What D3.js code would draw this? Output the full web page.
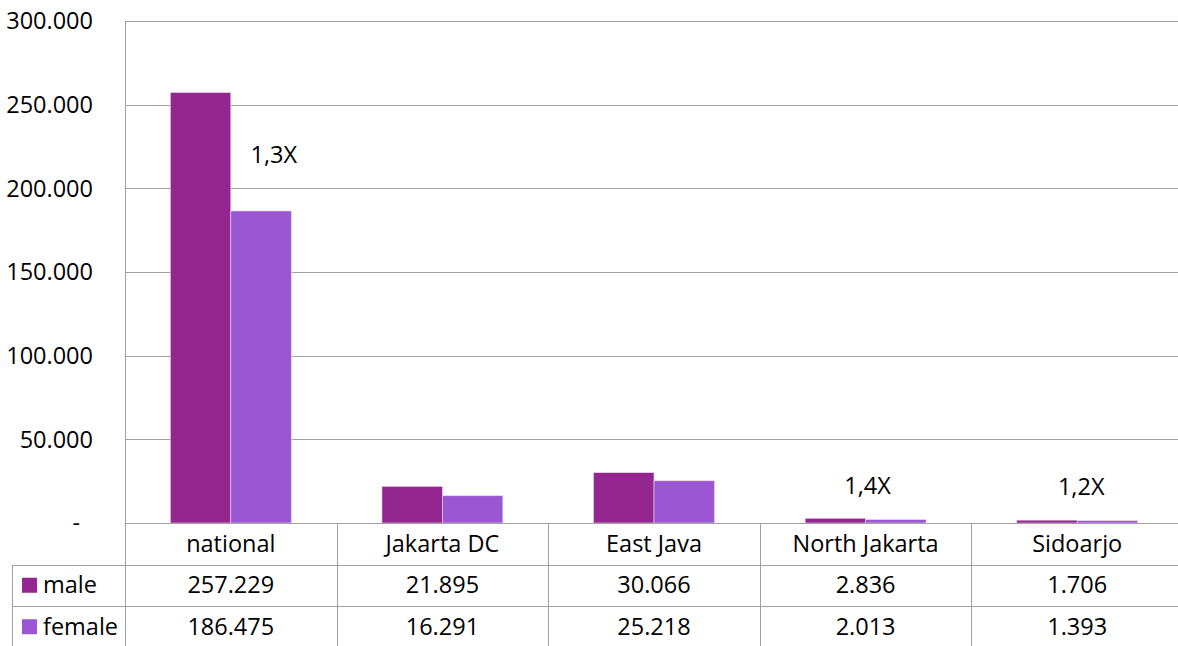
<!DOCTYPE html>
<html>
<head>
<meta charset="utf-8">
<script src="https://cdn.jsdelivr.net/npm/d3@7"></script>
<style>
  body { margin: 0; background: #fff; overflow: hidden; }
  text { font-family: "Open Sans", sans-serif; fill: #000; }
</style>
</head>
<body>
<div id="chart"></div>
<script>
// Data
const categories = ['national', 'Jakarta DC', 'East Java', 'North Jakarta', 'Sidoarjo'];
const seriesNames = ['male', 'female'];
const male = [257229, 21895, 30066, 2836, 1706];
const female = [186475, 16291, 25218, 2013, 1393];
const yTicks = [0, 50000, 100000, 150000, 200000, 250000, 300000];
const ratioCats = ['national', 'North Jakarta', 'Sidoarjo'];
const ratioLabels = ['1,3X', '1,4X', '1,2X'];
const ratioLevels = [220000, 22500, 21500];

const width = 1178;
const height = 646;
const colors = { male: '#93278f', female: '#9b57d3' };
const gridColor = '#a0a0a0';
const fontSize = '23.5px';

// plot extends a little past the right edge of the window, like the original
const plotLeft = 125, plotRight = 1183, plotTop = 21, plotBottom = 523;
const rowH = 41.5;

const svg = d3.select('#chart')
    .append('svg')
    .attr('width', width)
    .attr('height', height);

const x = d3.scaleBand()
    .domain(categories)
    .range([plotLeft, plotRight])
    .paddingInner(0)
    .paddingOuter(0);

const xs = d3.scaleBand()
    .domain(seriesNames)
    .range([0, x.bandwidth()])
    .paddingInner(0)
    .paddingOuter(0.75);

const y = d3.scaleLinear()
    .domain([0, 300000])
    .range([plotBottom, plotTop]);

// number format with dot thousands separator
const fmt = d3.formatLocale({ decimal: ',', thousands: '.', grouping: [3], currency: ['', ''] }).format(',d');

// Gridlines
svg.append('g')
    .selectAll('line')
    .data(yTicks.filter(d => d > 0))
    .enter()
    .append('line')
    .attr('x1', plotLeft)
    .attr('x2', plotRight)
    .attr('y1', d => Math.round(y(d)) + 0.5)
    .attr('y2', d => Math.round(y(d)) + 0.5)
    .style('stroke', gridColor)
    .style('stroke-width', 1);

// Y labels
svg.append('g')
    .selectAll('text')
    .data(yTicks)
    .enter()
    .append('text')
    .attr('x', d => d === 0 ? 80 : 93)
    .attr('y', d => y(d))
    .attr('dy', '0.35em')
    .attr('text-anchor', 'end')
    .style('font-size', fontSize)
    .text(d => d === 0 ? '-' : fmt(d));

// Bars
const valuesBySeries = { male: male, female: female };
const barData = [];
categories.forEach((c, i) => {
    seriesNames.forEach(s => barData.push({ cat: c, series: s, value: valuesBySeries[s][i] }));
});

svg.append('g')
    .selectAll('rect')
    .data(barData)
    .enter()
    .append('rect')
    .attr('x', d => x(d.cat) + xs(d.series))
    .attr('y', d => y(d.value))
    .attr('width', xs.bandwidth())
    .attr('height', d => y(0) - y(d.value))
    .style('fill', d => colors[d.series])
    .style('stroke', '#e9d6ee')
    .style('stroke-width', 0.6);

// Axis lines
svg.append('line')
    .attr('x1', plotLeft + 0.5).attr('x2', plotLeft + 0.5)
    .attr('y1', plotTop).attr('y2', height)
    .style('stroke', gridColor);
svg.append('line')
    .attr('x1', plotLeft).attr('x2', plotRight)
    .attr('y1', plotBottom + 0.5).attr('y2', plotBottom + 0.5)
    .style('stroke', gridColor);

// Ratio annotations
const ratioOffsets = [43, 2, 4];
svg.append('g')
    .selectAll('text')
    .data(ratioCats)
    .enter()
    .append('text')
    .attr('x', (d, i) => x(d) + x.bandwidth() / 2 + ratioOffsets[i])
    .attr('y', (d, i) => y(ratioLevels[i]))
    .attr('dy', '0.35em')
    .attr('text-anchor', 'middle')
    .style('font-size', fontSize)
    .text((d, i) => ratioLabels[i]);

// Data table
const table = svg.append('g');
const rowY = [plotBottom, plotBottom + rowH, plotBottom + 2 * rowH, plotBottom + 3 * rowH];

// horizontal lines
[rowY[1], rowY[2]].forEach(yy => {
    table.append('line')
        .attr('x1', 12).attr('x2', plotRight)
        .attr('y1', Math.round(yy) + 0.5).attr('y2', Math.round(yy) + 0.5)
        .style('stroke', gridColor);
});
// left border
table.append('line')
    .attr('x1', 12.5).attr('x2', 12.5)
    .attr('y1', Math.round(rowY[1])).attr('y2', height)
    .style('stroke', gridColor);
// vertical separators
categories.forEach(c => {
    const xx = Math.round(x(c) + x.bandwidth()) + 0.5;
    table.append('line')
        .attr('x1', xx).attr('x2', xx)
        .attr('y1', plotBottom).attr('y2', height)
        .style('stroke', gridColor);
});

// category labels
table.selectAll('.cat')
    .data(categories)
    .enter()
    .append('text')
    .attr('class', 'cat')
    .attr('x', d => x(d) + x.bandwidth() / 2)
    .attr('y', (rowY[0] + rowY[1]) / 2)
    .attr('dy', '0.35em')
    .attr('text-anchor', 'middle')
    .style('font-size', fontSize)
    .text(d => d);

// value rows
seriesNames.forEach((s, r) => {
    const cy = (rowY[r + 1] + rowY[r + 2]) / 2;
    table.append('rect')
        .attr('x', 22).attr('y', cy - 7.5)
        .attr('width', 15).attr('height', 15)
        .style('fill', colors[s]);
    table.append('text')
        .attr('x', 43).attr('y', cy)
        .attr('dy', '0.35em')
        .style('font-size', fontSize)
        .text(s);
    table.selectAll('.v' + s)
        .data(valuesBySeries[s])
        .enter()
        .append('text')
        .attr('x', (d, i) => x(categories[i]) + x.bandwidth() / 2)
        .attr('y', cy)
        .attr('dy', '0.35em')
        .attr('text-anchor', 'middle')
        .style('font-size', fontSize)
        .text(d => fmt(d));
});
</script>
</body>
</html>
